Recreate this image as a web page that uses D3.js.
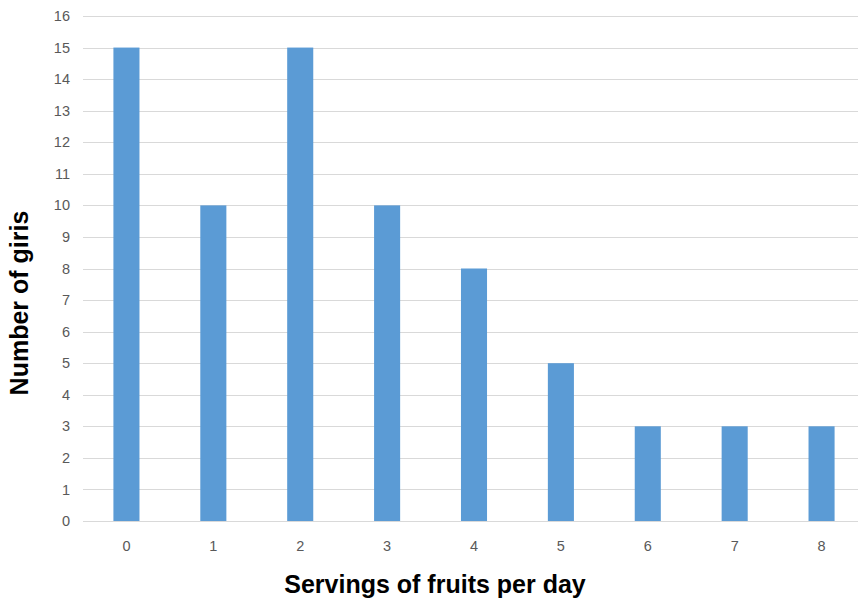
<!DOCTYPE html>
<html>
  <head>
    <meta charset="UTF-8">
    <title></title>
    <style>
    body { margin: 0; background: #fff; }
    .tick-label { font-family: "Liberation Sans", Arial, sans-serif; font-size: 14.5px; fill: #595959; }
    .axis-title { font-family: "Liberation Sans", Arial, sans-serif; font-size: 25px; font-weight: bold; fill: #000; }
    </style>
  </head>
  <body>
    <svg id="chart"></svg>
  </body>
  <script src="https://cdn.jsdelivr.net/npm/d3@7"></script>
  <script>
  var servings = ["0", "1", "2", "3", "4", "5", "6", "7", "8"];
  var girls = [15, 10, 15, 10, 8, 5, 3, 3, 3];
  var yTicks = [0, 1, 2, 3, 4, 5, 6, 7, 8, 9, 10, 11, 12, 13, 14, 15, 16];

  var width = 860, height = 602;
  var plotLeft = 83, plotRight = 865, plotTop = 16, plotBottom = 521;

  var svg = d3.select("#chart").attr("width", width).attr("height", height);

  var x = d3.scaleBand().domain(servings).range([plotLeft, plotRight])
    .paddingInner(0.7).paddingOuter(0.35);
  var y = d3.scaleLinear().domain([0, 16]).range([plotBottom, plotTop]);

  // gridlines
  svg.selectAll(".grid")
    .data(yTicks)
    .enter()
    .append("line")
    .attr("x1", plotLeft)
    .attr("x2", 858)
    .attr("y1", function(d) { return Math.round(y(d)) + 0.5; })
    .attr("y2", function(d) { return Math.round(y(d)) + 0.5; })
    .style("stroke", "#d9d9d9")
    .style("stroke-width", 1);

  // y tick labels
  svg.selectAll(".ylab")
    .data(yTicks)
    .enter()
    .append("text")
    .attr("class", "tick-label")
    .attr("x", 70)
    .attr("y", function(d) { return y(d); })
    .attr("dy", "0.35em")
    .attr("text-anchor", "end")
    .text(function(d) { return d; });

  // bars
  svg.selectAll(".bar")
    .data(girls)
    .enter()
    .append("rect")
    .attr("x", function(d, i) { return x(servings[i]); })
    .attr("width", x.bandwidth())
    .attr("y", function(d) { return y(d); })
    .attr("height", function(d) { return y(0) - y(d); })
    .style("fill", "#5b9bd5");

  // x tick labels
  svg.selectAll(".xlab")
    .data(servings)
    .enter()
    .append("text")
    .attr("class", "tick-label")
    .attr("x", function(d) { return x(d) + x.bandwidth() / 2; })
    .attr("y", 551)
    .attr("text-anchor", "middle")
    .text(function(d) { return d; });

  svg.append("text")
    .attr("class", "axis-title")
    .attr("x", 435)
    .attr("y", 593)
    .attr("text-anchor", "middle")
    .text("Servings of fruits per day");

  svg.append("text")
    .attr("class", "axis-title")
    .attr("transform", "translate(28,303)rotate(-90)")
    .attr("text-anchor", "middle")
    .text("Number of giris");
  </script>
</html>
